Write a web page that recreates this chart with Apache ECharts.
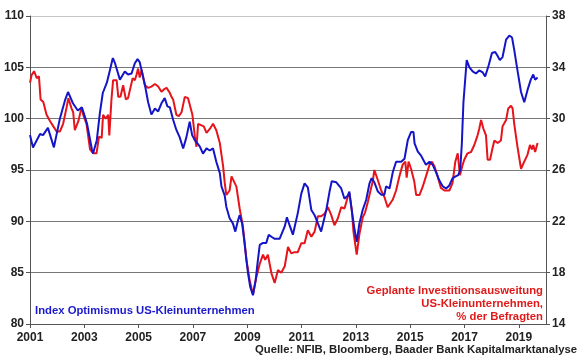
<!DOCTYPE html>
<html>
<head>
<meta charset="utf-8">
<script src="https://cdn.jsdelivr.net/npm/echarts@6/dist/echarts.min.js"></script>
<style>
html,body{margin:0;padding:0;background:#fff;}
#c{width:580px;height:359px;}
</style>
</head>
<body>
<div id="c"></div>
<script>
// Index Optimismus US-Kleinunternehmen (left axis): time (decimal year), value
const blueT = [2001.00,2001.11,2001.37,2001.48,2001.66,2001.88,2002.10,2002.29,2002.40,2002.58,2002.76,2002.91,2003.02,2003.10,2003.28,2003.32,2003.46,2003.57,2003.68,2003.83,2003.94,2004.05,2004.13,2004.31,2004.49,2004.61,2004.74,2004.86,2004.96,2005.04,2005.11,2005.23,2005.35,2005.47,2005.60,2005.72,2005.84,2005.96,2006.06,2006.15,2006.27,2006.39,2006.51,2006.64,2006.76,2006.88,2006.97,2007.07,2007.25,2007.37,2007.50,2007.62,2007.74,2007.86,2007.99,2008.05,2008.17,2008.23,2008.35,2008.47,2008.56,2008.66,2008.72,2008.81,2008.90,2008.97,2009.03,2009.11,2009.21,2009.31,2009.39,2009.46,2009.58,2009.70,2009.79,2009.89,2010.01,2010.19,2010.25,2010.38,2010.46,2010.56,2010.68,2010.74,2010.86,2010.99,2011.11,2011.17,2011.23,2011.36,2011.48,2011.60,2011.72,2011.78,2011.91,2012.03,2012.11,2012.28,2012.33,2012.46,2012.58,2012.70,2012.76,2012.83,2012.95,2013.03,2013.13,2013.25,2013.38,2013.50,2013.58,2013.68,2013.81,2013.93,2014.05,2014.11,2014.24,2014.36,2014.48,2014.67,2014.79,2014.91,2015.03,2015.12,2015.16,2015.28,2015.40,2015.46,2015.58,2015.71,2015.83,2015.95,2016.07,2016.20,2016.32,2016.44,2016.56,2016.69,2016.77,2016.84,2016.90,2016.96,2017.08,2017.18,2017.30,2017.42,2017.54,2017.67,2017.76,2017.89,2018.01,2018.13,2018.22,2018.30,2018.40,2018.53,2018.65,2018.75,2018.83,2018.95,2019.08,2019.20,2019.32,2019.44,2019.53,2019.60,2019.69];
const blueV = [98.4,97.2,98.5,98.4,99.1,97.2,100.0,101.8,102.6,101.5,100.8,101.1,100.2,99.5,97.0,96.6,97.9,100.5,102.5,103.5,104.7,105.9,105.4,103.8,104.6,104.3,104.4,105.4,105.8,105.5,104.7,103.3,101.6,100.4,101.0,100.7,101.5,102.0,101.2,101.1,99.9,98.9,98.2,97.1,98.2,99.7,98.4,97.9,97.3,96.6,97.1,96.9,97.1,95.8,94.7,93.4,92.5,91.4,90.3,89.8,89.0,90.1,90.6,89.8,87.9,86.2,84.9,83.6,82.8,84.3,86.2,87.7,87.9,87.9,88.7,88.5,88.3,88.3,88.2,89.5,90.4,89.6,88.7,88.8,90.8,92.7,93.7,93.8,93.3,91.1,90.6,89.8,89.0,89.0,91.1,92.9,93.9,93.8,93.9,93.2,92.2,92.5,92.9,91.4,89.2,88.0,89.8,91.1,92.1,93.7,94.2,93.8,92.9,92.6,92.6,93.4,93.2,94.8,95.8,95.8,96.1,97.9,98.7,98.7,97.6,96.8,96.4,96.1,95.5,95.8,95.5,94.8,94.0,93.4,93.2,93.5,94.2,94.4,94.5,95.0,97.5,101.6,105.7,105.0,104.6,104.4,104.7,104.5,104.1,105.2,106.4,106.5,106.1,105.7,106.0,107.7,108.1,107.9,106.7,104.7,102.6,101.6,102.8,103.8,104.3,103.8,104.0];

// Geplante Investitionsausweitung, % der Befragten (right axis)
const redT = [2001.00,2001.06,2001.15,2001.25,2001.33,2001.39,2001.49,2001.61,2001.74,2001.86,2001.98,2002.10,2002.22,2002.35,2002.41,2002.53,2002.59,2002.65,2002.78,2002.90,2002.96,2003.08,2003.21,2003.33,2003.45,2003.54,2003.64,2003.69,2003.79,2003.88,2003.92,2004.00,2004.06,2004.19,2004.25,2004.33,2004.43,2004.53,2004.61,2004.68,2004.78,2004.86,2004.92,2004.98,2005.04,2005.11,2005.23,2005.35,2005.47,2005.60,2005.72,2005.84,2005.94,2006.03,2006.15,2006.21,2006.27,2006.33,2006.39,2006.48,2006.58,2006.70,2006.82,2006.88,2006.98,2007.07,2007.13,2007.19,2007.25,2007.40,2007.50,2007.62,2007.74,2007.86,2007.99,2008.11,2008.17,2008.23,2008.35,2008.42,2008.47,2008.60,2008.72,2008.84,2008.97,2009.09,2009.21,2009.33,2009.46,2009.58,2009.66,2009.76,2009.89,2010.01,2010.13,2010.25,2010.38,2010.50,2010.62,2010.74,2010.86,2010.99,2011.11,2011.23,2011.36,2011.48,2011.60,2011.72,2011.85,2011.97,2012.09,2012.21,2012.33,2012.46,2012.58,2012.70,2012.76,2012.85,2012.91,2012.97,2013.03,2013.13,2013.25,2013.34,2013.44,2013.56,2013.62,2013.68,2013.81,2013.93,2014.05,2014.17,2014.24,2014.36,2014.48,2014.60,2014.72,2014.82,2014.87,2014.94,2015.03,2015.15,2015.22,2015.34,2015.46,2015.58,2015.71,2015.80,2015.89,2016.01,2016.13,2016.26,2016.44,2016.56,2016.66,2016.75,2016.83,2016.93,2016.99,2017.11,2017.24,2017.36,2017.48,2017.54,2017.61,2017.69,2017.79,2017.85,2017.94,2018.03,2018.10,2018.22,2018.34,2018.40,2018.53,2018.61,2018.71,2018.77,2018.83,2018.95,2019.08,2019.20,2019.32,2019.41,2019.48,2019.53,2019.60,2019.69];
const redV = [32.8,33.4,33.7,33.15,33.3,31.5,31.3,30.3,29.8,29.4,29.0,29.0,29.6,30.9,31.6,30.8,30.5,29.1,29.8,30.9,30.3,29.6,27.6,27.3,27.3,28.6,28.5,30.3,30.0,30.3,28.7,31.5,33.0,33.0,31.7,31.7,32.6,31.5,31.6,31.5,33.15,33.0,33.4,33.9,33.2,33.8,32.6,32.4,32.5,32.7,32.5,32.1,32.3,32.4,32.0,31.7,31.5,31.6,30.3,30.2,30.5,31.7,31.6,31.7,30.3,28.6,27.8,29.6,29.6,29.4,28.9,29.2,29.6,29.1,28.1,26.3,25.0,24.05,24.4,25.5,25.6,24.7,23.0,21.6,19.0,17.4,16.3,17.6,18.7,19.4,19.0,19.4,17.95,17.2,18.2,18.0,18.5,20.0,19.5,19.6,19.6,20.3,20.3,21.3,20.8,21.2,22.4,22.4,22.6,23.1,22.5,21.7,22.2,23.1,23.0,23.9,24.2,22.9,21.2,20.3,19.4,21.0,22.3,22.7,23.5,24.6,25.1,26.0,25.2,24.4,23.9,23.1,23.1,23.7,24.4,25.5,26.4,26.65,25.4,26.65,26.1,25.1,24.05,24.05,24.7,25.5,26.4,26.65,26.3,25.5,24.6,24.4,24.4,25.0,26.65,27.3,25.6,26.4,26.8,27.3,27.4,27.95,28.7,29.2,29.9,29.25,28.7,26.8,26.8,27.7,28.3,28.1,28.3,29.4,29.9,30.8,31.0,30.8,29.6,27.8,26.1,26.65,27.2,27.95,27.6,27.95,27.4,28.1];

const startYear = 2001;
const endYear = 2020;
const leftMin = 80, leftMax = 110, leftStep = 5;
const rightMin = 14, rightMax = 38, rightStep = 4;

const blueLabel = 'Index Optimismus US-Kleinunternehmen';
const redLabel = ['Geplante Investitionsausweitung', 'US-Kleinunternehmen,', '% der Befragten'];
const sourceLabel = 'Quelle: NFIB, Bloomberg, Baader Bank Kapitalmarktanalyse';

const blueData = blueT.map((t, i) => [t - startYear, blueV[i]]);
const redData = redT.map((t, i) => [t - startYear, redV[i]]);

const FONT = '"Liberation Sans", Arial, sans-serif';
const chart = echarts.init(document.getElementById('c'), null, {renderer: 'canvas'});
chart.setOption({
  animation: false,
  backgroundColor: '#fff',
  grid: {left: 30, right: 34, top: 16, bottom: 35, containLabel: false},
  xAxis: {
    type: 'value', min: 0, max: endYear - startYear, interval: 2,
    axisLine: {show: true, lineStyle: {color: '#555', width: 1}},
    axisTick: {show: true, length: 4, lineStyle: {color: '#555'}},
    axisLabel: {
      formatter: v => (v % 2 === 0 && v <= 18) ? String(startYear + v) : '',
      color: '#222', fontFamily: FONT, fontWeight: 'bold', fontSize: 12, margin: 8,
      showMaxLabel: false
    },
    splitLine: {show: false}
  },
  yAxis: [
    {
      type: 'value', min: leftMin, max: leftMax, interval: leftStep, position: 'left',
      axisLine: {show: true, lineStyle: {color: '#555', width: 1}},
      axisTick: {show: true, length: 4, lineStyle: {color: '#555'}},
      axisLabel: {color: '#222', fontFamily: FONT, fontWeight: 'bold', fontSize: 12, margin: 6},
      splitLine: {show: true, lineStyle: {color: ['#666', '#777', '#777', '#777', '#777', '#777', '#c4c4c4'], width: 1}}
    },
    {
      type: 'value', min: rightMin, max: rightMax, interval: rightStep, position: 'right',
      axisLine: {show: true, lineStyle: {color: '#555', width: 1}},
      axisTick: {show: true, length: 4, lineStyle: {color: '#555'}},
      axisLabel: {color: '#222', fontFamily: FONT, fontWeight: 'bold', fontSize: 12, margin: 6},
      splitLine: {show: false}
    }
  ],
  series: [
    {
      type: 'line', yAxisIndex: 1, data: redData, showSymbol: false, smooth: false,
      lineStyle: {color: '#e6141b', width: 2}, z: 2
    },
    {
      type: 'line', yAxisIndex: 0, data: blueData, showSymbol: false, smooth: false,
      lineStyle: {color: '#1515c8', width: 2}, z: 3
    }
  ],
  graphic: [
    {type: 'text', left: 35, top: 305, style: {text: blueLabel, fill: '#1a1acc', font: 'bold 11.3px ' + FONT}},
    {type: 'text', right: 37, top: 285, style: {text: redLabel[0], fill: '#e01a1a', font: 'bold 11.3px ' + FONT}},
    {type: 'text', right: 37, top: 298, style: {text: redLabel[1], fill: '#e01a1a', font: 'bold 11.3px ' + FONT}},
    {type: 'text', right: 37, top: 311, style: {text: redLabel[2], fill: '#e01a1a', font: 'bold 11.3px ' + FONT}},
    {type: 'text', right: 3, top: 344, style: {text: sourceLabel, fill: '#222', font: 'bold 11.3px ' + FONT}}
  ]
});
</script>
</body>
</html>
